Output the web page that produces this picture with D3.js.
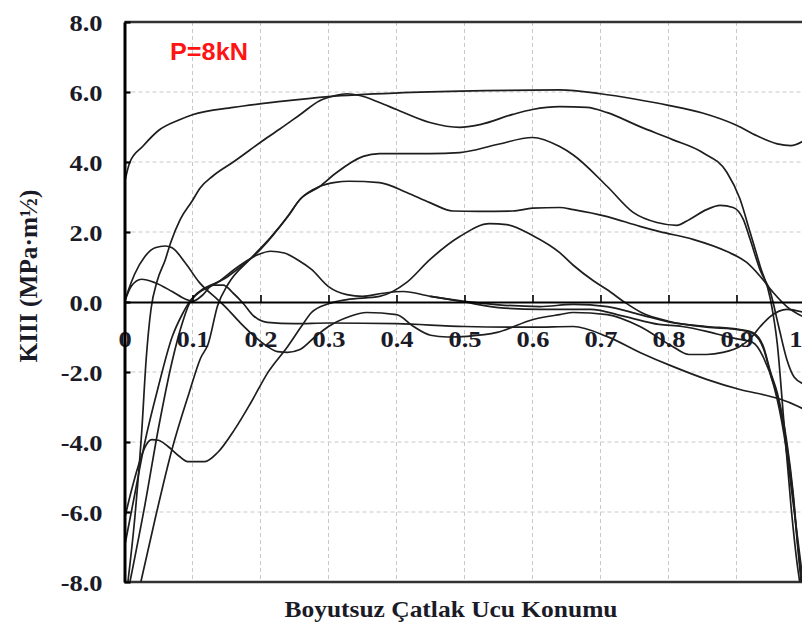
<!DOCTYPE html>
<html><head><meta charset="utf-8">
<script src="https://cdn.jsdelivr.net/npm/d3@7"></script>
<style>html,body{margin:0;padding:0;background:#fff;}svg{display:block;}</style>
</head><body>
<svg id="chart" width="802" height="633"></svg>
<script>
// ---- data ----
const xTicks = [0,0.1,0.2,0.3,0.4,0.5,0.6,0.7,0.8,0.9,1];
const xTickLabels = ["0","0.1","0.2","0.3","0.4","0.5","0.6","0.7","0.8","0.9","1"];
const yTicks = [-8,-6,-4,-2,0,2,4,6,8];
const yTickLabels = ["-8.0","-6.0","-4.0","-2.0","0.0","2.0","4.0","6.0","8.0"];
const xTitle = "Boyutsuz Çatlak Ucu Konumu";
const yTitle = "KIII (MPa·m½)";
const loadLabel = "P=8kN";

const curveA = [[0,3.4],[0.008,4.0],[0.027,4.45],[0.05,4.9],[0.08,5.2],[0.1,5.35],[0.16,5.56],[0.23,5.73],[0.3,5.87],[0.41,5.98],[0.53,6.04],[0.64,6.06],[0.7,5.95],[0.75,5.8],[0.8,5.62],[0.85,5.4],[0.9,5.05],[0.93,4.75],[0.96,4.52],[0.98,4.47],[1.0,4.62]];
const curveB = [[0.005,-8],[0.015,-6.2],[0.025,-3.8],[0.032,-1.6],[0.039,-0.2],[0.048,0.6],[0.06,1.21],[0.068,1.7],[0.082,2.36],[0.1,2.9],[0.111,3.25],[0.13,3.6],[0.16,4.0],[0.21,4.7],[0.229,4.95],[0.258,5.35],[0.287,5.75],[0.31,5.9],[0.327,5.95],[0.346,5.9],[0.375,5.7],[0.4,5.5],[0.449,5.13],[0.493,4.99],[0.523,5.07],[0.571,5.36],[0.6,5.5],[0.64,5.58],[0.68,5.56],[0.71,5.41],[0.758,5.01],[0.806,4.64],[0.85,4.27],[0.886,3.7],[0.905,2.95],[0.92,1.99],[0.935,1.01],[0.95,0.07],[0.96,-1.2],[0.97,-3.5],[0.98,-5.8],[0.99,-7.6],[0.993,-8]];
const curveC = [[0,-7.0],[0.015,-5.5],[0.03,-4.0],[0.05,-2.4],[0.07,-1.0],[0.085,-0.35],[0.098,0.07],[0.152,0.73],[0.2,1.5],[0.24,2.44],[0.258,2.93],[0.287,3.3],[0.312,3.7],[0.351,4.16],[0.375,4.24],[0.449,4.24],[0.493,4.27],[0.548,4.5],[0.6,4.7],[0.64,4.44],[0.66,4.2],[0.71,3.3],[0.748,2.56],[0.783,2.27],[0.812,2.19],[0.831,2.36],[0.856,2.64],[0.876,2.76],[0.895,2.7],[0.91,2.36],[0.92,1.79],[0.935,0.9],[0.95,0.27],[0.962,-0.7],[0.974,-1.64],[0.985,-2.15],[1.0,-2.35]];
const curveD = [[0.024,-8],[0.045,-6.2],[0.07,-4.2],[0.095,-2.6],[0.112,-1.6],[0.123,-1.2],[0.137,-0.1],[0.152,0.5],[0.186,1.25],[0.215,1.85],[0.24,2.44],[0.258,2.93],[0.287,3.3],[0.31,3.42],[0.33,3.45],[0.375,3.41],[0.415,3.13],[0.449,2.84],[0.483,2.6],[0.52,2.59],[0.571,2.6],[0.6,2.68],[0.64,2.7],[0.66,2.64],[0.71,2.44],[0.758,2.16],[0.787,2.01],[0.836,1.79],[0.886,1.44],[0.915,1.13],[0.935,0.73],[0.954,0.27],[0.974,-0.13],[1.0,-0.44]];
const curveE = [[0,-6.2],[0.01,-5.4],[0.02,-4.7],[0.03,-4.15],[0.04,-3.93],[0.05,-3.95],[0.064,-4.13],[0.08,-4.4],[0.093,-4.56],[0.118,-4.56],[0.137,-4.3],[0.162,-3.64],[0.186,-2.87],[0.211,-2.01],[0.24,-1.27],[0.26,-0.7],[0.275,-0.3],[0.3,-0.05],[0.327,0.07],[0.375,0.16],[0.415,0.56],[0.449,1.21],[0.493,1.87],[0.537,2.24],[0.562,2.21],[0.6,1.9],[0.64,1.41],[0.66,1.05],[0.69,0.6],[0.71,0.35],[0.735,0.0],[0.76,-0.3],[0.8,-0.55],[0.856,-0.72],[0.905,-0.8],[0.924,-0.9],[0.94,-1.35],[0.95,-2.05],[0.96,-2.7],[0.974,-4.1],[0.983,-5.5],[0.99,-7.0],[0.995,-8]];
const curveF = [[0.008,-8],[0.03,-5.8],[0.05,-3.6],[0.07,-1.7],[0.085,-0.6],[0.098,0.05],[0.137,0.56],[0.17,1.05],[0.196,1.35],[0.215,1.45],[0.235,1.4],[0.255,1.2],[0.275,0.93],[0.3,0.44],[0.327,0.21],[0.35,0.16],[0.38,0.25],[0.41,0.3],[0.45,0.16],[0.5,0.02],[0.55,-0.08],[0.611,-0.13],[0.66,-0.07],[0.71,-0.13],[0.758,-0.36],[0.806,-0.59],[0.856,-0.7],[0.905,-0.79],[0.924,-0.87],[0.94,-1.3],[0.95,-2.0],[0.96,-2.6],[0.974,-4.0],[0.983,-5.4],[0.99,-6.9],[0.996,-8]];
const curveG = [[0,0],[0.01,0.45],[0.025,0.65],[0.045,0.55],[0.07,0.3],[0.09,0.08],[0.1,0.02],[0.115,0.2],[0.13,0.48],[0.145,0.48],[0.16,0.25],[0.175,-0.05],[0.19,-0.4],[0.21,-0.58],[0.25,-0.62],[0.3,-0.6],[0.4,-0.62],[0.5,-0.7],[0.6,-0.72],[0.66,-0.7],[0.71,-0.99],[0.758,-1.44],[0.806,-1.84],[0.856,-2.21],[0.905,-2.5],[0.95,-2.7],[0.975,-2.85],[1.0,-3.07]];
const curveH = [[0,0],[0.005,0.3],[0.015,0.8],[0.03,1.3],[0.045,1.55],[0.06,1.6],[0.07,1.55],[0.089,1.13],[0.11,0.56],[0.137,0.07],[0.148,-0.13],[0.17,-0.59],[0.21,-1.27],[0.225,-1.42],[0.24,-1.44],[0.258,-1.36],[0.28,-1.0],[0.3,-0.7],[0.33,-0.42],[0.356,-0.3],[0.4,-0.36],[0.425,-0.7],[0.45,-0.95],[0.475,-1.0],[0.504,-0.98],[0.548,-0.87],[0.601,-0.5],[0.64,-0.36],[0.66,-0.3],[0.71,-0.36],[0.758,-0.7],[0.806,-1.27],[0.83,-1.5],[0.856,-1.5],[0.88,-1.44],[0.905,-1.27],[0.92,-1.05],[0.935,-0.7],[0.95,-0.41],[0.974,-0.21],[1.0,-0.3]];
const curveL = [[0.45,0.16],[0.5,0.0],[0.55,-0.16],[0.611,-0.21],[0.685,-0.21],[0.735,-0.41],[0.786,-0.64],[0.82,-0.7],[0.856,-0.84],[0.886,-0.99],[0.905,-1.07],[0.924,-1.16],[0.94,-1.6],[0.955,-2.4],[0.97,-3.8],[0.985,-6.0],[0.998,-8]];
const series = [curveA, curveB, curveC, curveD, curveE, curveF, curveG, curveH, curveL];

// ---- drawing ----
const svg = d3.select("#chart");
const x = d3.scaleLinear().domain([0,1]).range([124.5, 804.5]);
const y = d3.scaleLinear().domain([-8,8]).range([582, 22]);
const serif = "'Liberation Serif','Times New Roman',serif";
const ink = "#1b1b28";

svg.append("defs").append("clipPath").attr("id","plotclip")
  .append("rect").attr("x",x(0)).attr("y",y(8)).attr("width",x(1)-x(0)).attr("height",y(-8)-y(8));

// grid
const grid = svg.append("g").attr("stroke","#c9c9c9").attr("stroke-width",1).attr("stroke-dasharray","4,3");
grid.selectAll("line.v").data(xTicks.filter(d=>d>0)).join("line")
  .attr("x1",d=>x(d)).attr("x2",d=>x(d)).attr("y1",y(8)).attr("y2",y(-8));
grid.selectAll("line.h").data(yTicks.filter(d=>d!==0 && Math.abs(d)!==8)).join("line")
  .attr("x1",x(0)).attr("x2",x(1)).attr("y1",d=>y(d)).attr("y2",d=>y(d));

// top & bottom borders
svg.append("line").attr("x1",x(0)).attr("x2",x(1)).attr("y1",y(8)).attr("y2",y(8)).attr("stroke","#333").attr("stroke-width",2.5);
svg.append("line").attr("x1",x(0)).attr("x2",x(1)).attr("y1",y(-8)).attr("y2",y(-8)).attr("stroke","#333").attr("stroke-width",2.5);

// series lines
const line = d3.line().x(d=>x(d[0])).y(d=>y(d[1])).curve(d3.curveMonotoneX);
svg.append("g").attr("clip-path","url(#plotclip)")
  .selectAll("path").data(series).join("path")
  .attr("d", line).attr("fill","none").attr("stroke","#1e1e1e").attr("stroke-width",1.7);

// x axis at y=0
const xAxis = d3.axisBottom(x).tickValues(xTicks).tickFormat((d,i)=>xTickLabels[i]).tickSize(-7).tickSizeOuter(0);
const gx = svg.append("g").attr("transform",`translate(0,${y(0)})`).call(xAxis);
gx.select(".domain").attr("stroke","#000").attr("stroke-width",1.8);
gx.selectAll(".tick line").attr("stroke","#000").attr("stroke-width",1.6);
gx.selectAll(".tick text").attr("y",45).attr("dy",null)
  .attr("font-family",serif).attr("font-weight","bold").attr("font-size",23).attr("fill",ink);

// y axis
const yAxis = d3.axisLeft(y).tickValues(yTicks).tickFormat((d,i)=>yTickLabels[i]).tickSize(-6).tickSizeOuter(0).tickPadding(22);
const gy = svg.append("g").attr("transform",`translate(${x(0)},0)`).call(yAxis);
gy.select(".domain").attr("stroke","#000").attr("stroke-width",3);
gy.selectAll(".tick line").attr("stroke","#000").attr("stroke-width",2.2);
gy.selectAll(".tick text").attr("dy","0.36em")
  .attr("font-family",serif).attr("font-weight","bold").attr("font-size",23).attr("fill",ink);

// widen tick labels like the reference
svg.selectAll(".tick text").each(function(){
  const t = d3.select(this);
  const w = this.getComputedTextLength();
  t.attr("textLength", w*1.15).attr("lengthAdjust","spacingAndGlyphs");
});
// keep the last x label ("1") inside the picture
gx.selectAll(".tick text").filter(d=>d===1).attr("text-anchor","end").attr("x",802-x(1));

// titles
svg.append("text").attr("x",451).attr("y",617).attr("text-anchor","middle")
  .attr("font-family",serif).attr("font-weight","bold").attr("font-size",24).attr("fill",ink)
  .attr("textLength",333).attr("lengthAdjust","spacingAndGlyphs").text(xTitle);
svg.append("text").attr("transform","translate(37,276) rotate(-90)").attr("text-anchor","middle")
  .attr("font-family",serif).attr("font-weight","bold").attr("font-size",25).attr("fill",ink)
  .attr("textLength",173).attr("lengthAdjust","spacingAndGlyphs").text(yTitle);

// load annotation
svg.append("text").attr("x",170).attr("y",60)
  .attr("font-family","'Liberation Sans',Arial,sans-serif").attr("font-weight","bold").attr("font-size",24).attr("fill","#ff1414")
  .attr("textLength",78).attr("lengthAdjust","spacingAndGlyphs").text(loadLabel);
</script>
</body></html>
